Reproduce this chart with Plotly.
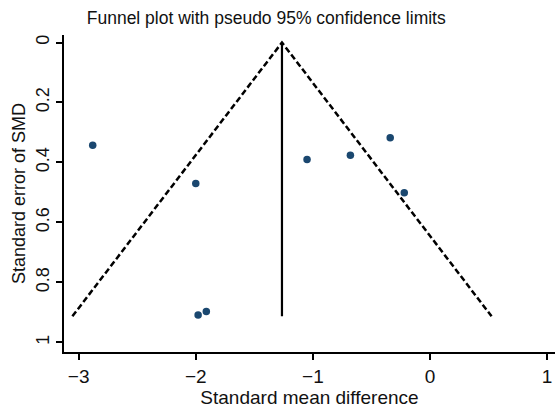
import plotly.graph_objects as go

# Study-level standardized mean differences and their standard errors
smd = [-2.88, -2.00, -1.05, -0.68, -0.34, -0.22, -1.98, -1.91]
se_smd = [0.343, 0.470, 0.390, 0.376, 0.318, 0.501, 0.909, 0.897]

# Pooled estimate and funnel extent
pooled_smd = -1.264
se_max = 0.913
z95 = 1.96

x_ticks = [-3, -2, -1, 0, 1]
x_ticktext = ["\u22123", "\u22122", "\u22121", "0", "1"]
y_ticks = [0, 0.2, 0.4, 0.6, 0.8, 1]
y_ticktext = ["0", "0.2", "0.4", "0.6", "0.8", "1"]

navy = "#1a476f"
font_family = "Liberation Sans, Arial, sans-serif"

fig = go.Figure()

# Pseudo 95% confidence limits
fig.add_trace(go.Scatter(
    x=[pooled_smd - z95 * se_max, pooled_smd, pooled_smd + z95 * se_max],
    y=[se_max, 0, se_max],
    mode="lines",
    line=dict(color="black", width=2.5, dash="6px,3px"),
    hoverinfo="skip", showlegend=False,
))

# Pooled effect line
fig.add_trace(go.Scatter(
    x=[pooled_smd, pooled_smd],
    y=[0, se_max],
    mode="lines",
    line=dict(color="black", width=2.2),
    hoverinfo="skip", showlegend=False,
))

# Individual studies
fig.add_trace(go.Scatter(
    x=smd, y=se_smd,
    mode="markers",
    marker=dict(color=navy, size=7.5),
    showlegend=False,
))

fig.update_layout(
    width=557, height=409,
    margin=dict(l=64, r=2, t=35, b=57),
    paper_bgcolor="white",
    plot_bgcolor="white",
    font=dict(family=font_family, size=16, color="#111111"),
    title=dict(
        text="Funnel plot with pseudo 95% confidence limits",
        x=0.478, xanchor="center", y=0.957, yanchor="middle",
        font=dict(size=17.5, color="#111111"),
    ),
    xaxis=dict(
        range=[-3.125, 1.067],
        tickvals=x_ticks, ticktext=x_ticktext,
        showgrid=False, zeroline=False,
        showline=True, linecolor="black", linewidth=2,
        ticks="outside", ticklen=6, tickwidth=2, tickcolor="black",
        tickfont=dict(size=19),
        title=dict(text="Standard mean difference", font=dict(size=19), standoff=3),
    ),
    yaxis=dict(
        range=[1.032, -0.025],
        tickvals=y_ticks, ticktext=y_ticktext,
        tickangle=-90,
        showgrid=False, zeroline=False,
        showline=True, linecolor="black", linewidth=2,
        ticks="outside", ticklen=6, tickwidth=2, tickcolor="black",
        tickfont=dict(size=18),
        title=dict(text="Standard error of SMD", font=dict(size=18), standoff=2),
    ),
)

fig.write_html("out.html")
